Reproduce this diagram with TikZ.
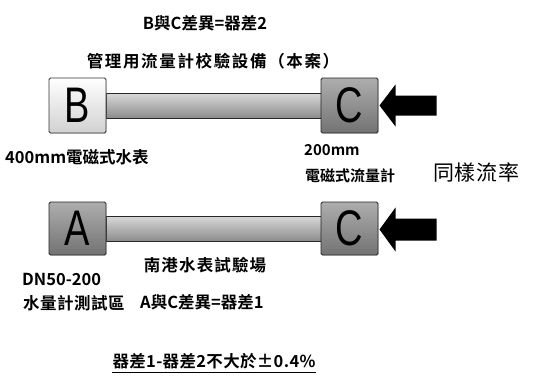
\documentclass[tikz,border=0pt]{standalone}
\usepackage{fontspec}
\setmainfont{Liberation Sans}
\newfontfamily\cjk{Noto Sans CJK TC}[BoldFont={* Bold}]
\usetikzlibrary{shadows}
\begin{document}
\begin{tikzpicture}[x=1pt,y=-1pt,
  lightbox/.style={draw=black!80,line width=0.8pt,rounded corners=1.5pt,top color=white,bottom color=black!18,drop shadow={opacity=0.25,shadow xshift=0.8pt,shadow yshift=-0.8pt}},
  darkbox/.style={draw=black!85,line width=0.8pt,rounded corners=1.5pt,top color=black!32,bottom color=black!55,drop shadow={opacity=0.25,shadow xshift=0.8pt,shadow yshift=-0.8pt}},
  pipe/.style={draw=black!85,line width=0.7pt,top color=black!15,bottom color=black!45},
  letter/.style={font=\fontsize{50}{50}\selectfont,inner sep=0pt,xscale=0.76},
  lbl/.style={font=\cjk\bfseries\fontsize{16.5}{16.5}\selectfont\addfontfeature{LetterSpace=#1},inner sep=0pt},
  lbl/.default=0,
  smalllbl/.style={font=\cjk\bfseries\fontsize{15}{15}\selectfont\addfontfeature{LetterSpace=#1},inner sep=0pt},
  smalllbl/.default=0,
  biglbl/.style={font=\cjk\fontsize{21}{21}\selectfont\addfontfeature{LetterSpace=3},inner sep=0pt},
  flow/.style={fill=black}
]
\useasboundingbox (0,0) rectangle (560,383);
% top row
\node[pipe,minimum width=216pt,minimum height=25pt,inner sep=0pt] (p1) at (214,105.5) {};
\node[lightbox,minimum width=57pt,minimum height=55pt,inner sep=0pt] (B) at (77.5,105.5) {};
\node[letter] at (B) {B};
\node[darkbox,minimum width=57pt,minimum height=55pt,inner sep=0pt] (C1) at (349.5,105.5) {};
\node[letter] at (C1) {C};
\coordinate (a1) at (379.5,105.5);
\fill[flow] (a1) -- ++(16,-21) -- ++(0,11) -- ++(41,0) -- ++(0,20) -- ++(-41,0) -- ++(0,11) -- cycle;
% bottom row
\node[pipe,minimum width=216pt,minimum height=25pt,inner sep=0pt] (p2) at (214,228.5) {};
\node[darkbox,minimum width=57pt,minimum height=53pt,inner sep=0pt] (A) at (77.5,228.5) {};
\node[letter] at (A) {A};
\node[darkbox,minimum width=57pt,minimum height=53pt,inner sep=0pt] (C2) at (349.5,228.5) {};
\node[letter] at (C2) {C};
\coordinate (a2) at (379.5,229.5);
\fill[flow] (a2) -- ++(16,-22) -- ++(0,11) -- ++(41,0) -- ++(0,22) -- ++(-41,0) -- ++(0,11) -- cycle;
% texts
\node[lbl] (t1) at (205,23) {B與C差異=器差2};
\node[lbl=10] (t2) at (213,61) {管理用流量計校驗設備（本案）};
\node[lbl,anchor=west] (t3) at (5,157) {400mm電磁式水表};
\node[smalllbl,anchor=west] (t4) at (304,150) {200mm};
\node[smalllbl,anchor=west] (t5) at (305,176) {電磁式流量計};
\node[biglbl,anchor=west] (t6) at (433,172) {同樣流率};
\node[lbl=7] (t7) at (205,265) {南港水表試驗場};
\node[lbl,anchor=west] (t8) at (22,279) {DN50-200};
\node[lbl=3,anchor=west] (t9) at (23,303) {水量計測試區};
\node[lbl,anchor=west] (t10) at (140,302) {A與C差異=器差1};
\node[lbl=2] (t11) at (214,361) {器差1-器差2不大於±0.4\%};
\draw[line width=0.9pt] (t11.south west) ++(0,3) -- ([yshift=-3pt]t11.south east);
\end{tikzpicture}
\end{document}
